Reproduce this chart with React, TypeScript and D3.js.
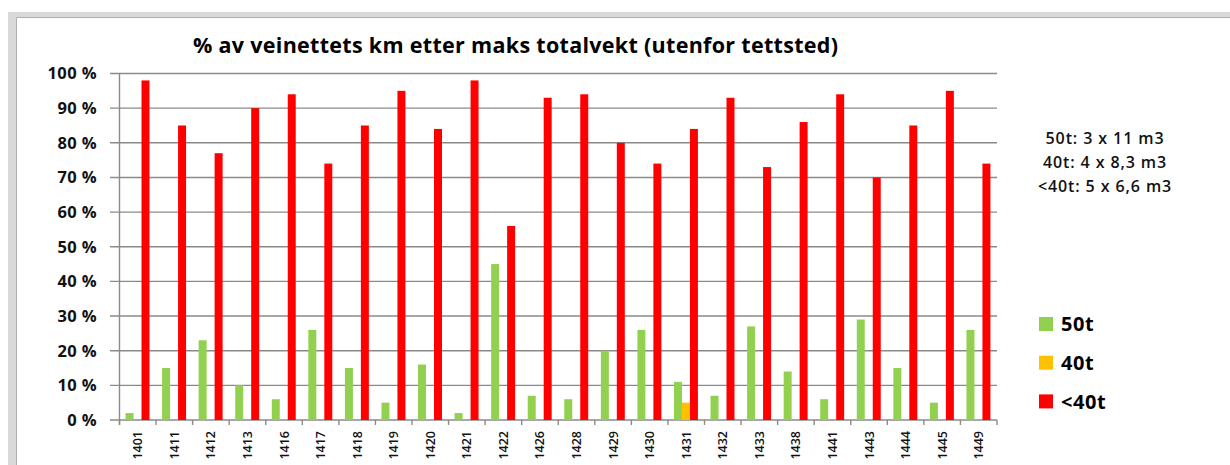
import React from 'react';
import * as d3 from 'd3';

// data
const categories = ['1401', '1411', '1412', '1413', '1416', '1417', '1418', '1419', '1420', '1421', '1422', '1426',
  '1428', '1429', '1430', '1431', '1432', '1433', '1438', '1441', '1443', '1444', '1445', '1449'];
const seriesNames = ['50t', '40t', '<40t'];
const values50t = [2, 15, 23, 10, 6, 26, 15, 5, 16, 2, 45, 7, 6, 20, 26, 11, 7, 27, 14, 6, 29, 15, 5, 26];
const values40t = [0, 0, 0, 0, 0, 0, 0, 0, 0, 0, 0, 0, 0, 0, 0, 5, 0, 0, 0, 0, 0, 0, 0, 0];
const valuesUnder40t = [98, 85, 77, 90, 94, 74, 85, 95, 84, 98, 56, 93, 94, 80, 74, 84, 93, 73, 86, 94, 70, 85, 95, 74];
const yTicks = [0, 10, 20, 30, 40, 50, 60, 70, 80, 90, 100];
const noteLines = ['50t: 3 x 11 m3', '40t: 4 x 8,3 m3', '<40t: 5 x 6,6 m3'];
const title = '% av veinettets km etter maks totalvekt (utenfor tettsted)';

const colors = ['#92D050', '#FFC000', '#FF0000'];
const font = '"Open Sans", Lato, sans-serif';

export default function App() {
  const width = 1230;
  const height = 465;
  const plot = { left: 119.5, right: 997, top: 73.5, bottom: 420 };

  const x = d3.scaleBand<string>().domain(categories).range([plot.left, plot.right]).padding(0);
  const bw = x.bandwidth();
  const inner = d3.scaleBand<string>().domain(seriesNames).range([bw * 0.165, bw * 0.82]).padding(0);
  const y = d3.scaleLinear().domain([0, 100]).range([plot.bottom, plot.top]);

  const series = [values50t, values40t, valuesUnder40t];
  const gridColor = '#8a8a8a';

  return (
    <svg width={width} height={height} style={{ position: 'absolute', left: 0, top: 0, background: '#fff' }}
      fontFamily={font}>
      {/* frame band */}
      <rect x={8} y={12} width={width - 8} height={5} fill="#d9d9d9" />
      <rect x={8} y={12} width={8} height={height - 12} fill="#d9d9d9" />
      <line x1={16.5} x2={width} y1={17.5} y2={17.5} stroke="#b0b0b0" strokeWidth={1} />
      <line x1={16.5} x2={16.5} y1={17.5} y2={height} stroke="#b0b0b0" strokeWidth={1} />

      <text x={515.5} y={52.5} textAnchor="middle" fontSize={21.5} fontWeight="bold" fill="#000"
        textLength={645} lengthAdjust="spacing">{title}</text>

      {/* gridlines + y axis */}
      {yTicks.map(t => (
        <g key={t}>
          <line x1={110} x2={plot.right} y1={y(t)} y2={y(t)} stroke={gridColor} strokeWidth={1.4} />
          <text x={97} y={y(t)} dy="0.36em" textAnchor="end" fontSize={16.5} fontWeight="bold" fill="#111"
            letterSpacing={0.4}>{t} %</text>
        </g>
      ))}
      <line x1={plot.left} x2={plot.left} y1={plot.top} y2={plot.bottom + 5} stroke={gridColor} strokeWidth={1.4} />

      {/* bars */}
      {categories.map((c, i) => (
        <g key={c} transform={`translate(${x(c)},0)`}>
          {series.map((vals, s) => vals[i] > 0 ? (
            <rect key={s} x={inner(seriesNames[s])} width={inner.bandwidth()} y={y(vals[i])}
              height={y(0) - y(vals[i])} fill={colors[s]} />
          ) : null)}
        </g>
      ))}

      {/* x ticks and labels */}
      {[...categories.map(c => x(c) as number), plot.right].map((px, i) => (
        <line key={i} x1={px} x2={px} y1={plot.bottom} y2={plot.bottom + 5} stroke={gridColor} strokeWidth={1.4} />
      ))}
      {categories.map(c => (
        <text key={c} transform={`translate(${(x(c) as number) + bw / 2},431) rotate(-90)`} dy="0.36em"
          textAnchor="end" fontSize={12.5} fontWeight={600} fill="#111">{c}</text>
      ))}

      {/* note */}
      {noteLines.map((l, i) => (
        <text key={l} x={1105} y={144.3 + i * 23.7} textAnchor="middle" fontSize={16} fontWeight={600} fill="#111"
          letterSpacing={0.9}>{l}</text>
      ))}

      {/* legend */}
      {seriesNames.map((n, i) => (
        <g key={n} transform={`translate(1039,${324 + i * 38.7})`}>
          <rect x={0} y={-7} width={14} height={14} fill={colors[i]} />
          <text x={22} dy="0.36em" fontSize={20} fontWeight="bold" fill="#000" letterSpacing={0.6}>{n}</text>
        </g>
      ))}
    </svg>
  );
}
